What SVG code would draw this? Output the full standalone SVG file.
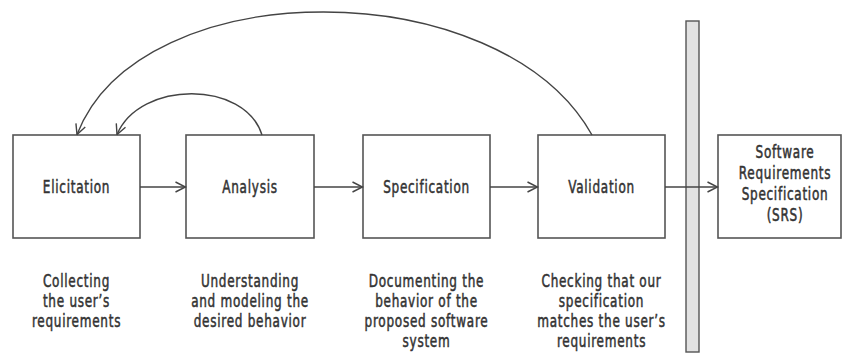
<svg xmlns="http://www.w3.org/2000/svg" width="843" height="358" viewBox="0 0 843 358">
<defs>
<style>
.box{fill:#fff;stroke:#555;stroke-width:1.6}
.bar{fill:#e2e2e2;stroke:#555;stroke-width:1.4}
.ln{fill:none;stroke:#444;stroke-width:1.4}
text{font-family:"DejaVu Sans",sans-serif;font-size:17px;fill:#333;stroke:#333;stroke-width:0.55;text-anchor:middle;letter-spacing:1px}
</style>
<marker id="ah" markerUnits="userSpaceOnUse" markerWidth="12" markerHeight="12" viewBox="0 0 12 12" refX="11" refY="6" orient="auto">
<path d="M1,1 L11,6 L1,11" fill="none" stroke="#444" stroke-width="1.4"/>
</marker>
</defs>
<rect width="843" height="358" fill="#fff"/>
<g id="bar"><rect class="bar" x="686" y="21" width="13" height="331"/></g>
<g id="elicitation"><rect class="box" x="13" y="135" width="127" height="103"/><text transform="translate(76.5,193) scale(0.71,1)">Elicitation</text></g>
<g id="analysis"><rect class="box" x="186" y="135" width="128" height="103"/><text transform="translate(250,193) scale(0.71,1)">Analysis</text></g>
<g id="specification"><rect class="box" x="363" y="135" width="127" height="103"/><text transform="translate(426.5,193) scale(0.71,1)">Specification</text></g>
<g id="validation"><rect class="box" x="538" y="135" width="127" height="103"/><text transform="translate(601.5,193) scale(0.71,1)">Validation</text></g>
<g id="srs"><rect class="box" x="718" y="135" width="123" height="103"/>
<text transform="translate(785,158) scale(0.71,1)">Software</text><text transform="translate(785,179) scale(0.71,1)">Requirements</text><text transform="translate(785,200) scale(0.71,1)">Specification</text><text transform="translate(785,221) scale(0.71,1)">(SRS)</text></g>
<g id="connectors">
<line class="ln" x1="140" y1="187" x2="185.5" y2="187" marker-end="url(#ah)"/>
<line class="ln" x1="314" y1="187" x2="362.5" y2="187" marker-end="url(#ah)"/>
<line class="ln" x1="490" y1="187" x2="537.5" y2="187" marker-end="url(#ah)"/>
<line class="ln" x1="665" y1="187" x2="717.5" y2="187" marker-end="url(#ah)"/>
<path class="ln" d="M592,135 C500,-29 140,-29 77,134.5" marker-end="url(#ah)"/>
<path class="ln" d="M262,135 C245,80 140,80 117,134.5" marker-end="url(#ah)"/>
</g>
<g id="descriptions">
<text transform="translate(76.5,287) scale(0.71,1)">Collecting</text><text transform="translate(76.5,307) scale(0.71,1)">the user’s</text><text transform="translate(76.5,327) scale(0.71,1)">requirements</text>
<text transform="translate(250,287) scale(0.71,1)">Understanding</text><text transform="translate(250,307) scale(0.71,1)">and modeling the</text><text transform="translate(250,327) scale(0.71,1)">desired behavior</text>
<text transform="translate(426.5,287) scale(0.71,1)">Documenting the</text><text transform="translate(426.5,307) scale(0.71,1)">behavior of the</text><text transform="translate(426.5,327) scale(0.71,1)">proposed software</text><text transform="translate(426.5,347) scale(0.71,1)">system</text>
<text transform="translate(601.5,287) scale(0.71,1)">Checking that our</text><text transform="translate(601.5,307) scale(0.71,1)">specification</text><text transform="translate(601.5,327) scale(0.71,1)">matches the user’s</text><text transform="translate(601.5,347) scale(0.71,1)">requirements</text>
</g>
</svg>
